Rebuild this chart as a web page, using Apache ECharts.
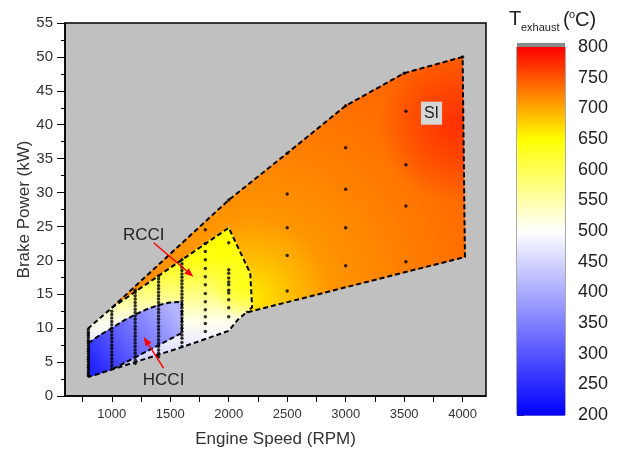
<!DOCTYPE html>
<html><head><meta charset="utf-8">
<script src="https://cdn.jsdelivr.net/npm/echarts@6/dist/echarts.min.js"></script>
<style>html,body{margin:0;padding:0;background:#fff}#c{width:622px;height:450px}</style>
</head><body><div id="c"></div>
<script>
// ---------- axis ticks ----------
const xTickValues = [750,1000,1250,1500,1750,2000,2250,2500,2750,3000,3250,3500,3750,4000];
const xLabelValues = [1000,1500,2000,2500,3000,3500,4000];
// ---------- colour scale (T exhaust, degC) ----------
const colorbarStops = [200, 500, 650, 800];
const colorbarColors = ['#0000ff', '#ffffff', '#ffff00', '#ff0000'];
// ---------- operating-region boundaries [RPM, kW] ----------
const siBoundary = [[1000,13],[2000,28.9],[2500,35.8],[3000,42.8],[3500,47.6],[4000,50],[4020,20.5],[2150,12.3],[2200,13.1],[2184,18.1],[2000,24.8]];
const rcciBoundary = [[800,2.8],[800,10],[1000,13],[2000,24.8],[2184,18.1],[2200,13.1],[2075,11.2],[2000,9.6],[1600,7.2],[1000,3.9]];
const hcciBoundary = [[800,2.8],[800,7.8],[900,9.0],[1000,10],[1100,11.1],[1200,12],[1300,12.8],[1400,13.4],[1500,13.8],[1600,13.9],[1600,9.3],[1000,3.9]];
// dashed outlines
const outerEnvelope = [[800,2.8],[800,10],[1000,13],[2000,28.9],[2500,35.8],[3000,42.8],[3500,47.6],[4000,50],[4020,20.5],[2150,12.3],[2075,11.2],[2000,9.6],[1600,7.2],[1000,3.9],[800,2.8]];
const rcciSiBorder = [[1000,13],[2000,24.8],[2184,18.1],[2200,13.1],[2150,12.3]];
const hcciBorder = [[800,7.8],[900,9.0],[1000,10],[1100,11.1],[1200,12],[1300,12.8],[1400,13.4],[1500,13.8],[1600,13.9],[1600,9.3],[1000,3.9]];
// ---------- exhaust temperature samples [RPM, kW, degC] ----------
// SI: radial trend away from the coolest corner (first sample)
const siField = [[2200,14.5,662],[2450,18,688],[2500,25,712],[3000,30,723],[4000,22,735],[3500,47.6,740]];
const siHotSpot = [3950,40,772];
// RCCI: top-to-bottom trend
const rcciField = [[2000,23,650],[2000,20,640],[2000,16.2,592],[2000,11,512],[2000,8,478],[2000,5,445]];
const rcciWarmSpot = [2150,16.5,640];
// HCCI: lower-left to upper-right trend
const hcciField = [[850,3.5,240],[1550,12,410]];
// ---------- measured operating points ----------
const dots800 = [3.0,3.4,3.8,4.2,4.6,5.0,5.4,5.8,6.2,6.6,7.0,7.4,7.8,8.2,8.6,9.0,9.4,9.8];
const dots1000 = [4.0,4.5,5.0,5.5,6.0,6.5,7.0,7.5,8.0,8.5,9.0,9.5,10.0,10.5,11.0,11.5,12.0,12.5];
const dots1200 = [4.8,5.3,5.8,6.3,6.8,7.3,7.8,8.3,8.8,9.3,9.8,10.3,10.8,11.3,11.8,12.3,12.8,13.3,13.8,14.3,14.8,15.3,15.6];
const dots1400 = [5.8,6.3,6.8,7.3,7.8,8.3,8.8,9.3,9.8,10.3,10.8,11.3,11.8,12.3,12.8,13.3,13.8,14.3,14.8,15.3,15.8,16.3,16.8,17.3,17.7];
const dots1600 = [7.3,7.9,8.5,9.0,9.5,10.0,10.5,11.0,11.5,12.0,12.5,13.0,13.5,14.0,14.5,15.0,15.5,16.0,16.5,17.0,17.5,18.0,18.5,19.0,19.5,20.1];
const dots1800 = [9.5,10.7,11.7,12.7,13.9,15.1,16.4,17.6,18.8,20.1,21.3,22.5,24.5];
const dots2000 = [11.7,13.0,14.2,15.2,15.6,16.4,16.8,17.4,18.1,18.6,22.6,28.9];
const siPoints = [[2500,15.5],[2500,20.7],[2500,24.8],[2500,29.8],[2500,35.8],[3000,19.2],[3000,24.8],[3000,30.5],[3000,36.6],[3000,42.8],[3515,19.8],[3515,28],[3515,34.1],[3515,42],[3500,47.6],[4000,50]];
// ---------- annotations ----------
const arrows = [[1358,22.6,1698,17.6],[1443,4.1,1273,8.7]];
const labels = [[1273,23.7,'RCCI',0],[1443,2.3,'HCCI',0],[3734,41.7,'SI',1]];

const FONT = '"Liberation Sans", Arial, sans-serif';

function hexToRgb(h){ h=h.replace('#',''); return [parseInt(h.substr(0,2),16),parseInt(h.substr(2,2),16),parseInt(h.substr(4,2),16)]; }
const stopRgb = colorbarColors.map(hexToRgb);
function colorAt(t, a){
  if (a === undefined) a = 1;
  const n = colorbarStops.length;
  t = Math.max(colorbarStops[0], Math.min(colorbarStops[n-1], t));
  let i = 0;
  while (i < n-2 && t > colorbarStops[i+1]) i++;
  const f = (t - colorbarStops[i]) / (colorbarStops[i+1] - colorbarStops[i]);
  const c = stopRgb[i].map((v,k)=>Math.round(v + (stopRgb[i+1][k]-v)*f));
  return 'rgba('+c[0]+','+c[1]+','+c[2]+','+a+')';
}
function linearFromSamples(api, samples){
  const a = api.coord([samples[0][0], samples[0][1]]);
  const last = samples[samples.length-1];
  const b = api.coord([last[0], last[1]]);
  const dx=b[0]-a[0], dy=b[1]-a[1], L2=dx*dx+dy*dy;
  const stops = samples.map(s=>{
    const p = api.coord([s[0], s[1]]);
    let t = ((p[0]-a[0])*dx + (p[1]-a[1])*dy)/L2;
    t = Math.max(0, Math.min(1, t));
    return {offset:t, color:colorAt(s[2])};
  });
  return {type:'linear', x:a[0], y:a[1], x2:b[0], y2:b[1], colorStops:stops, global:true};
}
function radialFromSamples(api, samples){
  const c = api.coord([samples[0][0], samples[0][1]]);
  const ds = samples.map(s=>{ const p = api.coord([s[0], s[1]]); return Math.hypot(p[0]-c[0], p[1]-c[1]); });
  const R = ds[ds.length-1];
  return {type:'radial', x:c[0], y:c[1], r:R, global:true,
    colorStops: samples.map((s,i)=>({offset:Math.min(1, ds[i]/R), color:colorAt(s[2])}))};
}
function radialSpot(api, s, r){
  const c = api.coord([s[0], s[1]]);
  return {type:'radial', x:c[0], y:c[1], r:r, global:true, colorStops:[
    {offset:0, color:colorAt(s[2],1)},
    {offset:0.5, color:colorAt(s[2],0.55)},
    {offset:1, color:colorAt(s[2],0)}]};
}
const regions = [
  {boundary:siBoundary, field:siField, kind:'radial', spot:siHotSpot, spotR:78},
  {boundary:rcciBoundary, field:rcciField, kind:'linear', spot:rcciWarmSpot, spotR:36},
  {boundary:hcciBoundary, field:hcciField, kind:'linear'}
];

function col(x, arr){ return arr.map(y=>[x,y]); }
const allDots = [].concat(col(800,dots800), col(1000,dots1000), col(1200,dots1200), col(1400,dots1400), col(1600,dots1600), col(1800,dots1800), col(2000,dots2000), siPoints);

function dashed(data){
  return {type:'line', xAxisIndex:0, yAxisIndex:0, data:data, symbol:'none', z:5, silent:true,
    lineStyle:{color:'#000', width:2, type:[5,3]}};
}

const chart = echarts.init(document.getElementById('c'));
chart.setOption({
  animation:false,
  textStyle:{fontFamily:FONT},
  grid:[
    {left:65, right:136, top:23, bottom:54, show:true, backgroundColor:'#c0c0c0', borderColor:'#000', borderWidth:1.5, outerBoundsMode:'none', containLabel:false},
    {left:517, width:48, top:47, height:368, show:true, backgroundColor:'transparent', borderColor:'#555', borderWidth:1, outerBoundsMode:'none', containLabel:false}
  ],
  xAxis:[
    {type:'value', gridIndex:0, min:600, max:4200,
     axisLine:{show:true, lineStyle:{color:'#000', width:1.5}},
     axisTick:{show:true, customValues:xTickValues, length:6, inside:false, lineStyle:{color:'#000', width:1}},
     axisLabel:{show:true, customValues:xLabelValues, fontSize:13, color:'#333', margin:12, fontFamily:FONT,
       formatter:function(v){ return String(v); }},
     splitLine:{show:false},
     name:'Engine Speed (RPM)', nameLocation:'middle', nameGap:35, nameMoveOverlap:false,
     nameTextStyle:{fontSize:17, color:'#333', fontFamily:FONT}},
    {type:'value', gridIndex:1, min:0, max:1, show:false}
  ],
  yAxis:[
    {type:'value', gridIndex:0, min:0, max:55, interval:5,
     axisLine:{show:true, lineStyle:{color:'#000', width:1.5}},
     axisTick:{show:true, length:8, inside:false, lineStyle:{color:'#000', width:1}},
     minorTick:{show:true, splitNumber:2, length:4, lineStyle:{color:'#000', width:1}},
     minorSplitLine:{show:false}, splitLine:{show:false},
     axisLabel:{fontSize:15, color:'#333', margin:12, fontFamily:FONT},
     name:'Brake Power (kW)', nameLocation:'middle', nameGap:32, nameRotate:90, nameMoveOverlap:false,
     nameTextStyle:{fontSize:17, color:'#333', fontFamily:FONT}},
    {type:'value', gridIndex:1, min:200, max:800, interval:50, position:'right',
     axisLine:{show:false},
     axisTick:{show:true, length:7, inside:false, lineStyle:{color:'#333', width:1}},
     splitLine:{show:false},
     axisLabel:{fontSize:18, color:'#222', margin:13, fontFamily:FONT}}
  ],
  graphic:[
    {type:'rect', shape:{x:517, y:43, width:48, height:4}, style:{fill:'#8a8a8a'}},
    {type:'text', x:509, y:19, style:{text:'T', fontSize:20, fontFamily:FONT, fill:'#222', verticalAlign:'middle', textVerticalAlign:'middle'}},
    {type:'text', x:521, y:28, style:{text:'exhaust', fontSize:11, fontFamily:FONT, fill:'#222', verticalAlign:'middle', textVerticalAlign:'middle'}},
    {type:'text', x:563, y:20, style:{text:'(', fontSize:20, fontFamily:FONT, fill:'#222', verticalAlign:'middle', textVerticalAlign:'middle'}},
    {type:'text', x:569, y:15, style:{text:'o', fontSize:11, fontFamily:FONT, fill:'#222', verticalAlign:'middle', textVerticalAlign:'middle'}},
    {type:'text', x:575, y:20, style:{text:'C)', fontSize:20, fontFamily:FONT, fill:'#222', verticalAlign:'middle', textVerticalAlign:'middle'}}
  ],
  series:[
    {type:'custom', xAxisIndex:0, yAxisIndex:0, z:2, silent:true,
     data: regions.map((r,i)=>[r.boundary[0][0], r.boundary[0][1], i]),
     renderItem:function(params, api){
       const r = regions[api.value(2)];
       const pts = r.boundary.map(p=>api.coord(p));
       const fill = r.kind === 'radial' ? radialFromSamples(api, r.field) : linearFromSamples(api, r.field);
       const children = [{type:'polygon', shape:{points:pts}, style:{fill:fill, stroke:fill, lineWidth:1}}];
       if (r.spot) children.push({type:'polygon', shape:{points:pts}, style:{fill:radialSpot(api, r.spot, r.spotR)}});
       return {type:'group', children:children};
     }},
    dashed(outerEnvelope),
    dashed(rcciSiBorder),
    dashed(hcciBorder),
    {type:'scatter', xAxisIndex:0, yAxisIndex:0, z:6, silent:true, data:allDots, symbol:'circle', symbolSize:3.5,
     itemStyle:{color:'#000'}},
    {type:'custom', xAxisIndex:0, yAxisIndex:0, z:7, silent:true,
     data: arrows,
     renderItem:function(params, api){
       const p1 = api.coord([api.value(0), api.value(1)]);
       const p2 = api.coord([api.value(2), api.value(3)]);
       const dx=p2[0]-p1[0], dy=p2[1]-p1[1], L=Math.sqrt(dx*dx+dy*dy);
       const ux=dx/L, uy=dy/L, hl=9, hw=3.5;
       const bx=p2[0]-ux*hl, by=p2[1]-uy*hl;
       return {type:'group', children:[
         {type:'line', shape:{x1:p1[0], y1:p1[1], x2:bx, y2:by}, style:{stroke:'#ff0000', lineWidth:1.5}},
         {type:'polygon', shape:{points:[[p2[0],p2[1]],[bx-uy*hw,by+ux*hw],[bx+uy*hw,by-ux*hw]]}, style:{fill:'#ff0000'}}
       ]};
     }},
    {type:'custom', xAxisIndex:0, yAxisIndex:0, z:8, silent:true,
     data: labels,
     renderItem:function(params, api){
       const item = labels[params.dataIndex];
       const p = api.coord([item[0], item[1]]);
       const boxed = item[3] === 1;
       return {type:'text', x:p[0], y:p[1], style:{
         text:item[2], fontSize:boxed?16:17, fontFamily:FONT, fill:'#222',
         align:'center', verticalAlign:'middle', textAlign:'center', textVerticalAlign:'middle',
         backgroundColor: boxed ? '#d6d6d6' : null, padding: boxed ? [4,3,3,3] : 0}};
     }},
    {type:'custom', xAxisIndex:1, yAxisIndex:1, z:2, silent:true,
     data: colorbarStops.slice(0,-1).map((t,i)=>[0, t, colorbarStops[i+1]]),
     renderItem:function(params, api){
       const t1 = api.value(1), t2 = api.value(2);
       const a = api.coord([0, t1]), b = api.coord([1, t2]);
       return {type:'rect', shape:{x:a[0], y:b[1], width:b[0]-a[0], height:a[1]-b[1]+0.6},
         style:{fill:{type:'linear', x:0, y:1, x2:0, y2:0, colorStops:[
           {offset:0, color:colorAt(t1)}, {offset:1, color:colorAt(t2)}]}}};
     }}
  ]
});
</script>
</body></html>
